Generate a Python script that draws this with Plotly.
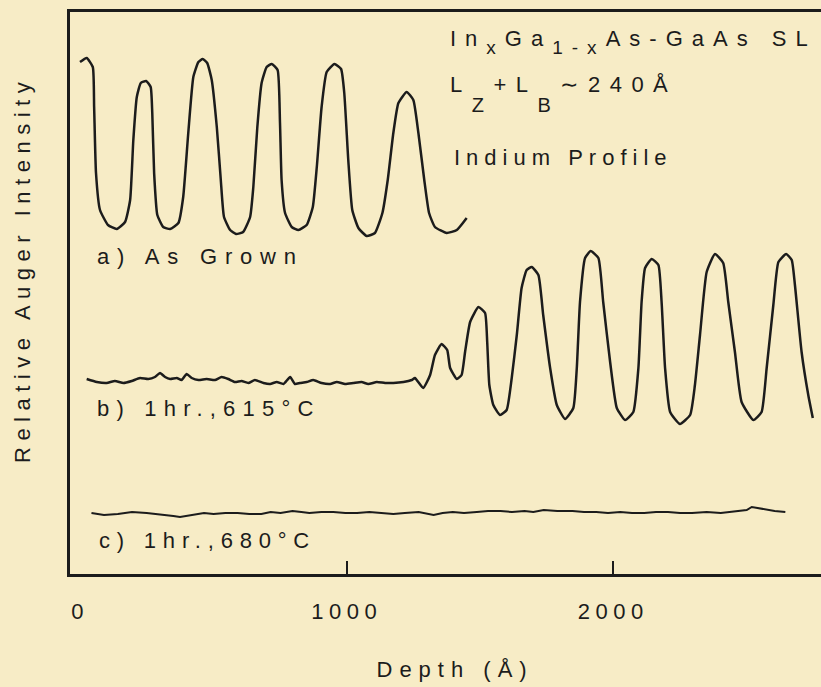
import plotly.graph_objects as go

# ---------------- data ----------------
# a) As Grown  -- depth (Å) and relative Auger intensity (arb. units)
a_depth = [0, 25, 48, 53, 60, 75, 105, 138, 169, 188, 200, 213, 228, 248, 265, 271, 278, 290, 312, 338,
           369, 387, 406, 425, 444, 460, 477, 494, 513, 528, 540, 563, 585, 612, 638, 650, 665, 681, 700, 719,
           741, 750, 756, 769, 794, 819, 850, 873, 888, 906, 925, 954, 979, 991, 1006, 1021, 1044, 1075, 1106, 1134,
           1154, 1175, 1194, 1225, 1250, 1269, 1291, 1309, 1331, 1375, 1413, 1450]
a_int = [512, 516, 507, 467, 401, 364, 349, 345, 352, 374, 434, 477, 491, 493, 487, 461, 401, 359, 347, 345,
         351, 377, 441, 497, 512, 515, 511, 494, 447, 394, 357, 344, 340, 342, 357, 387, 447, 491, 507, 510,
         504, 451, 394, 361, 347, 344, 349, 367, 407, 467, 502, 510, 505, 481, 414, 364, 346, 338, 341, 361,
         394, 441, 471, 482, 474, 441, 394, 361, 347, 341, 344, 356]

# b) 1 hr., 615 °C
b_depth = [25, 63, 100, 131, 163, 194, 225, 256, 281, 300, 319, 338, 363, 381, 400, 419, 444, 475, 506, 531,
           556, 581, 606, 631, 656, 688, 713, 738, 763, 788, 806, 825, 850, 875, 906, 938, 963, 994, 1025, 1056,
           1081, 1113, 1144, 1175, 1213, 1244, 1256, 1287, 1313, 1331, 1356, 1377, 1388, 1413, 1431, 1444, 1463, 1494, 1519, 1527,
           1535, 1550, 1575, 1600, 1619, 1638, 1656, 1675, 1694, 1719, 1737, 1763, 1788, 1819, 1850, 1863, 1875, 1894, 1915, 1944,
           1962, 1988, 2013, 2044, 2075, 2094, 2106, 2119, 2144, 2169, 2181, 2194, 2213, 2250, 2288, 2306, 2325, 2350, 2381, 2412,
           2431, 2456, 2481, 2525, 2556, 2575, 2600, 2619, 2648, 2669, 2681, 2706, 2731, 2748]
b_int = [195, 192, 191, 193, 191, 193, 196, 195, 197, 201, 197, 195, 196, 194, 200, 196, 194, 195, 194, 197,
         195, 192, 193, 191, 194, 191, 190, 192, 190, 197, 190, 191, 192, 194, 191, 190, 192, 190, 191, 192,
         190, 192, 191, 191, 192, 194, 196, 186, 199, 219, 230, 224, 206, 195, 199, 222, 252, 267, 261, 232,
         189, 169, 159, 164, 196, 239, 286, 304, 307, 299, 259, 206, 169, 155, 166, 206, 272, 316, 323, 316,
         272, 212, 166, 154, 162, 206, 272, 306, 315, 309, 272, 206, 162, 150, 159, 189, 239, 302, 320, 311,
         272, 222, 172, 154, 162, 206, 269, 312, 320, 314, 289, 222, 179, 156]

# c) 1 hr., 680 °C
c_depth = [43, 90, 142, 195, 250, 290, 321, 350, 375, 400, 429, 465, 501, 545, 591, 635, 680, 715, 752, 775,
           797, 830, 860, 905, 950, 995, 1039, 1085, 1129, 1175, 1218, 1270, 1326, 1360, 1398, 1440, 1488, 1530, 1577, 1620,
           1667, 1700, 1739, 1790, 1847, 1890, 1936, 1980, 2026, 2070, 2116, 2160, 2205, 2250, 2295, 2350, 2403, 2440, 2475, 2500,
           2519, 2540, 2564, 2605, 2645]
c_int = [61, 59, 60, 62, 61, 60, 59, 58, 57, 58, 59, 61, 60, 61, 61, 60, 60, 62, 61, 62,
         63, 62, 61, 62, 62, 61, 61, 62, 61, 60, 61, 62, 59, 61, 62, 61, 62, 63, 63, 62,
         63, 62, 64, 63, 63, 62, 62, 61, 62, 61, 61, 62, 62, 61, 61, 62, 61, 62, 63, 64,
         67, 66, 65, 63, 62]

tick_vals = [0, 1000, 2000]
tick_labels = ["0", "1000", "2000"]
inner_tick_vals = [1000, 2000]

label_a = "a) As Grown"
label_b = "b) 1hr.,615°C"
label_c = "c) 1hr.,680°C"
# title lines as (text, subscript) pieces
title1_parts = [("In", False), ("x", True), ("Ga", False), ("1-x", True), ("As-GaAs SL", False)]
title2_parts = [("L", False), ("Z", True), ("+L", False), ("B", True), ("∼240Å", False)]
title3 = "Indium Profile"
x_title = "Depth (Å)"
y_title = "Relative Auger Intensity"

# ---------------- styling ----------------
W, H = 821, 687
ML, MR, MT, MB = 70, 0, 12, 113
X_RANGE = [-37.5, 2778.75]
Y_RANGE = [0, 562]
BG = "#f7ecc6"
INK = "#1c1c1c"
FONT = "Liberation Sans, Arial, sans-serif"
FS = 22


def px_x(px):
    return (px - ML) / (W - ML - MR)


def px_y(py):
    return (H - MB - py) / (H - MB - MT)


def build(parts, sub_size, shift):
    out = ""
    for txt, is_sub in parts:
        if is_sub:
            out += f"<span style='font-size:{sub_size}px;baseline-shift:-{shift}px'>{txt}</span>"
        else:
            out += txt
    return out


fig = go.Figure()
line_ab = dict(color=INK, width=2.5, shape="spline", smoothing=0.45)
fig.add_trace(go.Scatter(x=a_depth, y=a_int, mode="lines", line=line_ab, hoverinfo="skip"))
fig.add_trace(go.Scatter(x=b_depth, y=b_int, mode="lines", line=line_ab, hoverinfo="skip"))
fig.add_trace(go.Scatter(x=c_depth, y=c_int, mode="lines", xaxis="x2",
                         line=dict(color=INK, width=2.0), hoverinfo="skip"))

t1 = build(title1_parts, 19, 8)
t2 = build(title2_parts, 20, 20)

ann = []
spacing = []
def add_text(txt, px, py, sp, xanchor="left", angle=0):
    d = dict(text=txt, x=px_x(px), y=px_y(py), xref="paper", yref="paper",
             xanchor=xanchor, yanchor="middle", align="left" if xanchor == "left" else "center",
             showarrow=False, font=dict(family=FONT, size=FS, color=INK))
    if angle:
        d["textangle"] = angle
    ann.append(d)
    spacing.append(sp)

add_text(t1, 448, 42, 9)
add_text(t2, 448, 94, 9.5)
add_text(title3, 452, 157, 6)
add_text(label_a, 95, 256, 7.8)
add_text(label_b, 95, 408, 7.2)
add_text(label_c, 97, 540, 6.8)
add_text(x_title, 455, 669, 7, xanchor="center")
add_text(y_title, 22, 270, 6.5, xanchor="center", angle=-90)

fig.update_layout(
    width=W, height=H, margin=dict(l=ML, r=MR, t=MT, b=MB),
    paper_bgcolor=BG, plot_bgcolor=BG, showlegend=False,
    font=dict(family=FONT, size=FS, color=INK),
    annotations=ann,
    xaxis=dict(range=X_RANGE, showgrid=False, zeroline=False, showline=True, mirror=True,
               linecolor=INK, linewidth=2.5, ticks="", tickmode="array", tickvals=tick_vals,
               ticktext=tick_labels, ticklabelstandoff=16,
               tickfont=dict(family=FONT, size=FS, color=INK)),
    xaxis2=dict(range=X_RANGE, overlaying="x", anchor="y", side="bottom", showgrid=False,
                zeroline=False, showline=False, ticks="inside", ticklen=13, tickwidth=2,
                tickcolor=INK, tickmode="array", tickvals=inner_tick_vals, showticklabels=False),
    yaxis=dict(range=Y_RANGE, showgrid=False, zeroline=False, showline=True, mirror=False,
               linecolor=INK, linewidth=2.5, ticks="", showticklabels=False),
)

# wide, hand-lettered look: letter spacing applied to the rendered SVG text
post = """
var gd = document.getElementById('{plot_id}');
var sp = %s;
gd.querySelectorAll('g.annotation').forEach(function(g){
  var i = +g.getAttribute('data-index');
  var t = g.querySelector('text.annotation-text');
  if(t && sp[i] !== undefined) t.style.letterSpacing = sp[i] + 'px';
});
gd.querySelectorAll('.xtick text').forEach(function(t){ t.style.letterSpacing = '5.5px'; });
""" % (spacing,)

fig.write_html("out.html", post_script=post)
